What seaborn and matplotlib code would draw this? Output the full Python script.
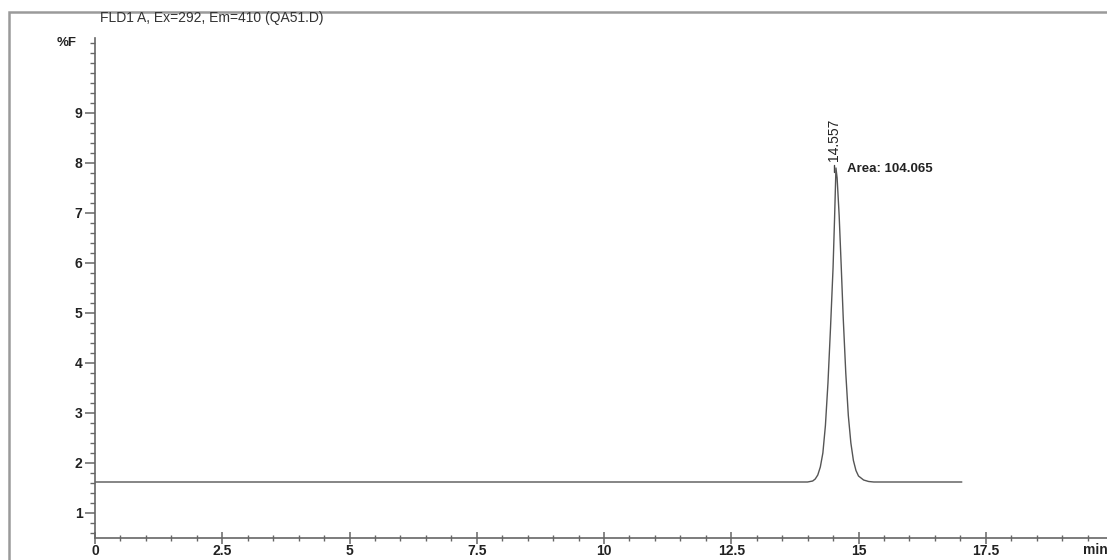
import matplotlib
matplotlib.use("Agg")
import matplotlib.pyplot as plt
import matplotlib.patches as mpatches
from matplotlib.ticker import MultipleLocator
import seaborn as sns
import pandas as pd

# ---- data ----
time_min = [0.0, 1.0, 2.0, 3.0, 4.0, 5.0, 6.0, 7.0, 8.0, 9.0, 10.0, 11.0, 12.0, 13.0,
            13.8, 14.0, 14.1, 14.15, 14.2, 14.25, 14.3, 14.35, 14.4, 14.45, 14.5,
            14.53, 14.557, 14.58, 14.62, 14.66, 14.7, 14.75, 14.8, 14.85, 14.9,
            14.95, 15.0, 15.1, 15.2, 15.3, 15.5, 16.0, 16.5, 17.03]
signal_pct = [1.62, 1.62, 1.62, 1.62, 1.62, 1.62, 1.62, 1.62, 1.62, 1.62, 1.62, 1.62, 1.62, 1.62,
              1.62, 1.62, 1.64, 1.68, 1.76, 1.92, 2.2, 2.75, 3.6, 4.7, 5.9,
              6.9, 7.9, 7.7, 6.95, 5.95, 4.9, 3.8, 2.95, 2.4, 2.05,
              1.85, 1.74, 1.66, 1.63, 1.62, 1.62, 1.62, 1.62, 1.62]

title_text = "FLD1 A, Ex=292, Em=410 (QA51.D)"
peak_rt = 14.557
peak_label = "14.557"
area_label = "Area: 104.065"
y_label = "%F"
x_unit = "min"
x_ticks = [0, 2.5, 5, 7.5, 10, 12.5, 15, 17.5]
x_tick_labels = ["0", "2.5", "5", "7.5", "10", "12.5", "15", "17.5"]
y_ticks = [1, 2, 3, 4, 5, 6, 7, 8, 9]

df = pd.DataFrame({"time": time_min, "signal": signal_pct})

sns.set_style("white")
plt.rcParams["font.family"] = ["Liberation Sans", "DejaVu Sans"]

W, H = 1107, 560
fig = plt.figure(figsize=(W / 100, H / 100), dpi=100)
ax = fig.add_axes([95 / W, 22 / H, (W - 95) / W, (538 - 38) / H])

sns.lineplot(data=df, x="time", y="signal", ax=ax, color="#555555", linewidth=1.0,
             estimator=None, sort=False)

ax.set_xlim(0, (W - 95) / 50.9)
ax.set_ylim(0.5, 10.5)
ax.set_xlabel("")
ax.set_ylabel("")

ax.set_xticks(x_ticks)
ax.set_xticklabels(x_tick_labels)
ax.set_yticks(y_ticks)
ax.xaxis.set_minor_locator(MultipleLocator(0.5))
ax.yaxis.set_minor_locator(MultipleLocator(0.2))

for s in ["top", "right"]:
    ax.spines[s].set_visible(False)
for s in ["left", "bottom"]:
    ax.spines[s].set_color("#666666")
    ax.spines[s].set_linewidth(1.2)

ax.tick_params(axis="both", which="both", bottom=True, left=True)
ax.tick_params(axis="y", which="major", direction="out", length=7, width=1.1,
               color="#666666", labelsize=10, pad=2)
ax.tick_params(axis="y", which="minor", direction="out", length=3.5, width=1.0,
               color="#666666")
ax.tick_params(axis="x", which="major", direction="inout", length=9, width=1.1,
               color="#666666", labelsize=10, pad=0)
ax.tick_params(axis="x", which="minor", direction="inout", length=5, width=1.0,
               color="#666666")
for lab in ax.get_xticklabels() + ax.get_yticklabels():
    lab.set_fontweight("bold")
    lab.set_color("#222222")

# y unit label and x unit label
ax.text(-0.018, 10.4, y_label, transform=ax.get_yaxis_transform(), ha="right",
        va="center", fontsize=9.5, fontweight="bold", color="#222222")
fig.text(1083 / W, 1 - 550 / H, x_unit, ha="left", va="center", fontsize=10,
         fontweight="bold", color="#222222")

# peak annotations
ax.text(peak_rt - 0.03, 8.04, peak_label, rotation=90, ha="center", va="bottom",
        fontsize=10, color="#222222")
ax.plot([peak_rt - 0.03, peak_rt - 0.03], [7.83, 7.97], color="#444444", lw=1.0)
ax.text(peak_rt + 0.22, 7.88, area_label, ha="left", va="center", fontsize=9.5,
        fontweight="bold", color="#222222")

# title and outer frame
fig.text(100 / W, 1 - 18 / H, title_text, ha="left", va="center", fontsize=10,
         color="#333333")
fig.patches.append(mpatches.Rectangle((9 / W, -0.1), 1.2, 1.1 - 12 / H,
                                      transform=fig.transFigure, fill=False,
                                      edgecolor="#9a9a9a", linewidth=1.8))

fig.savefig("out.png", dpi=100, facecolor="white")
